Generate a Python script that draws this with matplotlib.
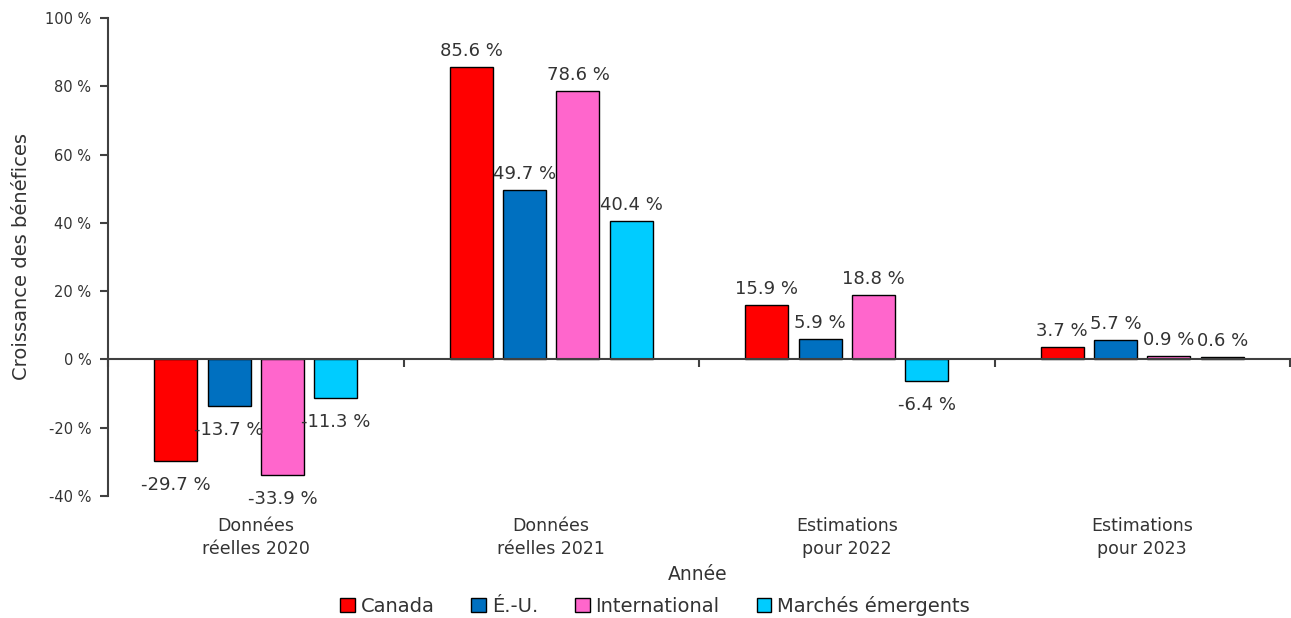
import numpy as np
import matplotlib
matplotlib.use("Agg")
import matplotlib.pyplot as plt

# croissance des bénéfices par région (%)
categories = ["Données\nréelles 2020", "Données\nréelles 2021", "Estimations\npour 2022", "Estimations\npour 2023"]
series = ["Canada", "É.-U.", "International", "Marchés émergents"]
canada = [-29.7, 85.6, 15.9, 3.7]
etats_unis = [-13.7, 49.7, 5.9, 5.7]
international = [-33.9, 78.6, 18.8, 0.9]
emergents = [-11.3, 40.4, -6.4, 0.6]
yticks = [-40, -20, 0, 20, 40, 60, 80, 100]

colors = ["#FF0000", "#0070C0", "#FF66CC", "#00CCFF"]
values = [canada, etats_unis, international, emergents]

txt = "#333333"

fig = plt.figure(figsize=(12.91, 6.18), dpi=100)
ax = fig.add_axes([108 / 1291, 1 - 496 / 618, 1182 / 1291, 478 / 618])

x = np.arange(len(categories)) + 0.5
step = 0.181
width = 0.1455
for k, (name, vals, col) in enumerate(zip(series, values, colors)):
    xs = x + (k - 1.5) * step
    ax.bar(xs, vals, width, color=col, edgecolor="black", linewidth=1.0,
           label=name, zorder=2)
    for xi, v in zip(xs, vals):
        off = 8 if v >= 0 else -21
        ax.annotate(f"{v:.1f} %", (xi, v), xytext=(0, off), textcoords="offset points",
                    ha="center", va="baseline", fontsize=13, color=txt)

ax.set_xlim(0, 4)
ax.set_ylim(-40, 100)
ax.set_yticks(yticks)
ax.set_yticklabels([f"{t} %" for t in yticks], fontsize=10.5, color=txt)
ax.set_xticks([0, 1, 2, 3, 4])
ax.set_xticklabels([])

for s in ["top", "right"]:
    ax.spines[s].set_visible(False)
ax.spines["bottom"].set_position(("data", 0))
ax.spines["bottom"].set_zorder(3)
for s in ["left", "bottom"]:
    ax.spines[s].set_color("#404040")
    ax.spines[s].set_linewidth(1.5)
ax.tick_params(axis="both", direction="out", length=6, width=1.5, color="#404040")
ax.tick_params(axis="y", pad=6)

# libellés des catégories sous l'axe
for xi, lab in zip(x, categories):
    ax.text(xi, -0.044, lab, transform=ax.get_xaxis_transform(), ha="center", va="top",
            fontsize=12.5, color=txt, linespacing=1.35)

fig.text(698 / 1291, 1 - 574 / 618, "Année", ha="center", va="center",
         fontsize=13.5, color=txt)
fig.text(22 / 1291, 1 - 257 / 618, "Croissance des bénéfices", rotation=90,
         ha="center", va="center", fontsize=14, color=txt)

leg = fig.legend(loc="center", bbox_to_anchor=(655 / 1291, 1 - 606 / 618), ncol=4,
                 frameon=False, handlelength=0.75, handleheight=0.75, handletextpad=0.3,
                 columnspacing=1.9, prop={"size": 14})
for t in leg.get_texts():
    t.set_color(txt)

fig.savefig("out.png", dpi=100)
